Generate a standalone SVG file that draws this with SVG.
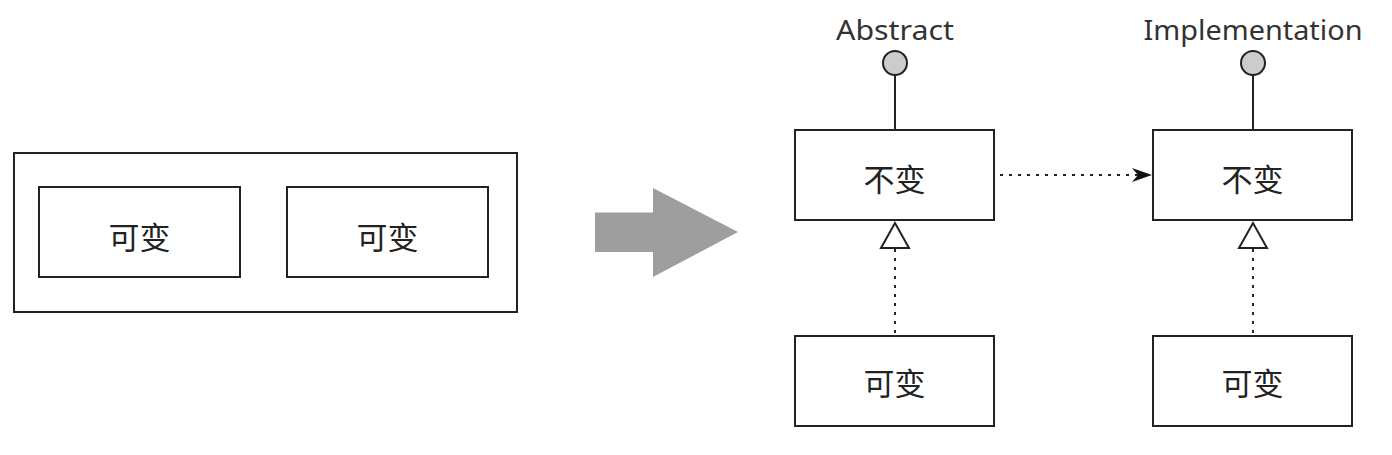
<svg xmlns="http://www.w3.org/2000/svg" width="1392" height="455" viewBox="0 0 1392 455">
<style>
.box{fill:#fff;stroke:#222;stroke-width:2}
.cn{font-family:"Noto Sans CJK SC",sans-serif;font-size:31px;fill:#222;text-anchor:middle;dominant-baseline:central}
.lbl{font-family:"Noto Sans",Lato,sans-serif;font-size:27px;fill:#333;text-anchor:middle}
.ln{stroke:#222;stroke-width:2;fill:none}
.dot{stroke:#222;stroke-width:2;stroke-dasharray:3 6;fill:none}
.ball{fill:#ccc;stroke:#222;stroke-width:2}
</style>
<defs>
<marker id="ah" viewBox="0 0 20 14" refX="20" refY="7" markerWidth="20" markerHeight="14" markerUnits="userSpaceOnUse" orient="auto">
<path d="M0,0 L20,7 L0,14 L6,7 Z" fill="#111"/>
</marker>
</defs>
<g id="outer"><rect class="box" x="14" y="153" width="503" height="159"/></g>
<g id="left1"><rect class="box" x="39" y="187" width="201" height="90"/><text class="cn" x="139.5" y="235">可变</text></g>
<g id="left2"><rect class="box" x="287" y="187" width="201" height="90"/><text class="cn" x="387.5" y="235">可变</text></g>
<g id="bigarrow"><path d="M595,212.5 L653,212.5 L653,188 L738,232 L653,277 L653,252 L595,252 Z" fill="#9e9e9e"/></g>
<g id="abstract">
<text class="lbl" x="895" y="40" textLength="118" lengthAdjust="spacingAndGlyphs">Abstract</text>
<line class="ln" x1="895" y1="75" x2="895" y2="130"/>
<circle class="ball" cx="895" cy="63" r="12"/>
<rect class="box" x="795" y="130" width="199" height="90"/><text class="cn" x="894.5" y="177">不变</text>
</g>
<g id="implementation">
<text class="lbl" x="1253" y="40" textLength="219" lengthAdjust="spacingAndGlyphs">Implementation</text>
<line class="ln" x1="1253" y1="75" x2="1253" y2="130"/>
<circle class="ball" cx="1253" cy="63" r="12"/>
<rect class="box" x="1153" y="130" width="199" height="90"/><text class="cn" x="1252.5" y="177">不变</text>
</g>
<g id="absSub"><rect class="box" x="795" y="336" width="199" height="90"/><text class="cn" x="894.5" y="381">可变</text></g>
<g id="implSub"><rect class="box" x="1153" y="336" width="199" height="90"/><text class="cn" x="1252.5" y="381">可变</text></g>
<g id="connectors">
<line class="dot" x1="1000" y1="175" x2="1152" y2="175" marker-end="url(#ah)"/>
<line class="dot" x1="895" y1="249" x2="895" y2="335"/>
<path class="ln" d="M895,223 L881,248 L909,248 Z" fill="#fff"/>
<line class="dot" x1="1253" y1="249" x2="1253" y2="335"/>
<path class="ln" d="M1253,223 L1239,248 L1267,248 Z" fill="#fff"/>
</g>
</svg>
